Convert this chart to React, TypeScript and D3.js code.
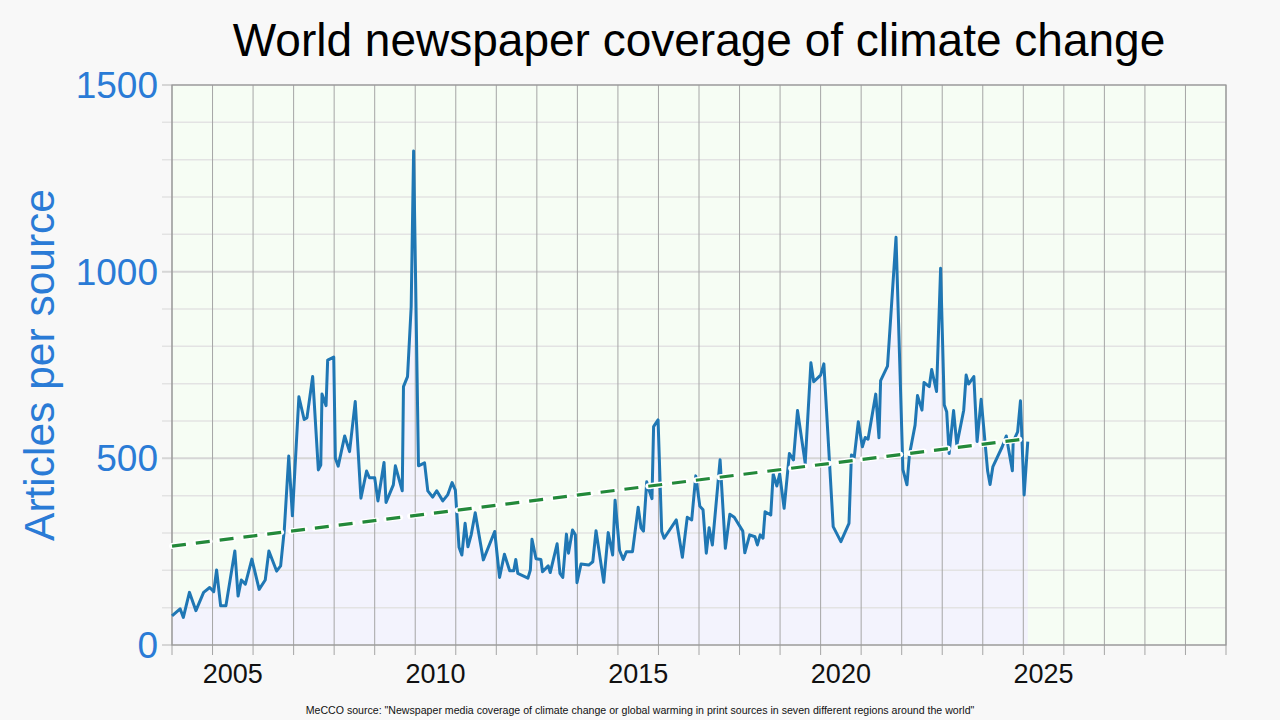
import * as d3 from "d3";
import { useEffect, useRef } from "react";

const WIDTH = 1280;
const HEIGHT = 720;

// Monthly coverage, as decimal years and articles per source
const years = [
    2004.0, 2004.2, 2004.28, 2004.43, 2004.59, 2004.78, 2004.93, 2005.03, 2005.1, 2005.2, 2005.33, 2005.55, 2005.63,
    2005.71, 2005.81, 2005.97, 2006.15, 2006.3, 2006.39, 2006.58, 2006.68, 2006.77, 2006.88, 2006.97, 2007.13, 2007.26,
    2007.33, 2007.47, 2007.61, 2007.67, 2007.7, 2007.8, 2007.84, 2007.99, 2008.03, 2008.1, 2008.26, 2008.38, 2008.52,
    2008.66, 2008.8, 2008.87, 2009.0, 2009.08, 2009.23, 2009.28, 2009.46, 2009.51, 2009.68, 2009.71, 2009.81, 2009.9,
    2009.96, 2010.08, 2010.23, 2010.31, 2010.43, 2010.53, 2010.68, 2010.8, 2010.91, 2010.99, 2011.08, 2011.15, 2011.23,
    2011.3, 2011.38, 2011.48, 2011.68, 2011.96, 2012.08, 2012.2, 2012.33, 2012.43, 2012.48, 2012.53, 2012.78, 2012.84,
    2012.88, 2012.98, 2013.1, 2013.14, 2013.28, 2013.33, 2013.5, 2013.57, 2013.64, 2013.73, 2013.78, 2013.88, 2013.95,
    2013.99, 2014.09, 2014.28, 2014.38, 2014.46, 2014.65, 2014.76, 2014.87, 2014.93, 2015.04, 2015.13, 2015.21, 2015.36,
    2015.5, 2015.57, 2015.63, 2015.71, 2015.78, 2015.84, 2015.88, 2015.99, 2016.08, 2016.14, 2016.44, 2016.59, 2016.71,
    2016.82, 2016.92, 2017.02, 2017.1, 2017.18, 2017.25, 2017.33, 2017.52, 2017.65, 2017.76, 2017.87, 2018.08, 2018.13,
    2018.25, 2018.38, 2018.44, 2018.51, 2018.58, 2018.63, 2018.77, 2018.83, 2018.92, 2018.99, 2019.1, 2019.23, 2019.33,
    2019.43, 2019.62, 2019.76, 2019.83, 2020.0, 2020.08, 2020.31, 2020.5, 2020.7, 2020.76, 2020.83, 2020.93, 2021.03,
    2021.1, 2021.17, 2021.36, 2021.44, 2021.48, 2021.65, 2021.86, 2022.03, 2022.13, 2022.19, 2022.33, 2022.39, 2022.5,
    2022.55, 2022.68, 2022.74, 2022.86, 2022.96, 2023.05, 2023.11, 2023.17, 2023.28, 2023.36, 2023.53, 2023.59, 2023.65,
    2023.78, 2023.86, 2023.96, 2024.12, 2024.18, 2024.25, 2024.48, 2024.58, 2024.73, 2024.75, 2024.86, 2024.93, 2025.02,
    2025.11,
];
const articles = [
    78, 97, 74, 141, 92, 141, 154, 143, 201, 105, 105, 252, 131, 174, 163, 230, 149, 174, 252, 198, 212, 308, 506, 346,
    665, 604, 609, 719, 469, 482, 672, 641, 763, 771, 500, 479, 560, 518, 652, 393, 466, 448, 448, 386, 489, 382, 429,
    480, 413, 692, 719, 906, 1323, 480, 488, 413, 396, 413, 386, 402, 435, 415, 262, 241, 326, 263, 295, 354, 228, 304,
    181, 243, 199, 199, 229, 192, 179, 201, 283, 231, 229, 196, 212, 194, 271, 192, 181, 297, 246, 308, 295, 167, 217,
    214, 223, 306, 168, 301, 241, 388, 254, 229, 250, 250, 369, 314, 305, 437, 411, 392, 585, 603, 304, 286, 335, 235,
    342, 335, 453, 372, 362, 246, 314, 268, 496, 259, 350, 342, 305, 247, 295, 290, 268, 295, 286, 357, 348, 458, 426,
    458, 366, 513, 496, 628, 487, 756, 705, 723, 753, 317, 277, 326, 509, 503, 598, 531, 556, 551, 672, 555, 708, 747,
    1092, 470, 429, 509, 589, 668, 629, 703, 692, 738, 679, 1009, 643, 625, 513, 628, 536, 629, 723, 699, 719, 545, 658,
    466, 430, 478, 531, 560, 467, 545, 571, 654, 402, 545,
];

// Linear trend, start and end
const trendYears = [2004.0, 2025.11];
const trendValues = [265, 553];

const yTicks = [0, 500, 1000, 1500];
const xTickYears = [2005, 2010, 2015, 2020, 2025];

const TITLE = "World newspaper coverage of climate change";
const Y_LABEL = "Articles per source";
const SOURCE =
    'MeCCO source: "Newspaper media coverage of climate change or global warming in print sources in seven different regions around the world"';

export default function App() {
    const svgRef = useRef<SVGSVGElement | null>(null);

    useEffect(() => {
        if (!svgRef.current) return;
        const svg = d3.select(svgRef.current);
        svg.selectAll("*").remove();

        const plot = { left: 172, right: 1226, top: 85, bottom: 645 };
        const x = d3.scaleLinear().domain([2004, 2030]).range([plot.left, plot.right]);
        const y = d3.scaleLinear().domain([0, 1500]).range([plot.bottom, plot.top]);
        const font = "'Liberation Sans', Arial, sans-serif";

        svg.append("rect").attr("width", WIDTH).attr("height", HEIGHT).attr("fill", "#f8f8f8");
        svg.append("rect")
            .attr("x", plot.left)
            .attr("y", plot.top)
            .attr("width", plot.right - plot.left)
            .attr("height", plot.bottom - plot.top)
            .attr("fill", "#f6fdf4");

        const points = years.map((t, i) => ({ t, v: articles[i] }));

        // light fill under the series
        const area = d3
            .area<{ t: number; v: number }>()
            .x((d) => x(d.t))
            .y0(y(0))
            .y1((d) => y(d.v));
        svg.append("path").datum(points).attr("fill", "#f3f3fd").attr("d", area);

        // horizontal grid every 100, extending left as ticks
        const minor = d3.range(0, 1501, 100);
        svg.append("g")
            .selectAll("line")
            .data(minor)
            .enter()
            .append("line")
            .attr("x1", plot.left - 10)
            .attr("x2", plot.right)
            .attr("y1", (d) => y(d))
            .attr("y2", (d) => y(d))
            .attr("stroke", (d) => (d % 500 === 0 ? "#d6d6d6" : "#e3e3e3"))
            .attr("stroke-width", (d) => (d % 500 === 0 ? 2 : 1.5));

        // vertical grid every year, with ticks below the axis
        const yearLines = d3.range(2004, 2031);
        svg.append("g")
            .selectAll("line")
            .data(yearLines)
            .enter()
            .append("line")
            .attr("x1", (d) => x(d))
            .attr("x2", (d) => x(d))
            .attr("y1", plot.top)
            .attr("y2", plot.bottom + 10)
            .attr("stroke", "#a6a6a6")
            .attr("stroke-width", 1);

        // frame
        svg.append("rect")
            .attr("x", plot.left)
            .attr("y", plot.top)
            .attr("width", plot.right - plot.left)
            .attr("height", plot.bottom - plot.top)
            .attr("fill", "none")
            .attr("stroke", "#999")
            .attr("stroke-width", 1.2);

        const line = d3
            .line<{ t: number; v: number }>()
            .x((d) => x(d.t))
            .y((d) => y(d.v));
        svg.append("path")
            .datum(points)
            .attr("fill", "none")
            .attr("stroke", "#1f77b4")
            .attr("stroke-width", 3)
            .attr("stroke-linejoin", "round")
            .attr("d", line);

        // dashed trend with a white halo
        const trend = trendYears.map((t, i) => ({ t, v: trendValues[i] }));
        svg.append("path")
            .datum(trend)
            .attr("fill", "none")
            .attr("stroke", "#fff")
            .attr("stroke-width", 6)
            .attr("stroke-dasharray", "14 10")
            .attr("stroke-linecap", "round")
            .attr("d", line);
        svg.append("path")
            .datum(trend)
            .attr("fill", "none")
            .attr("stroke", "#23893a")
            .attr("stroke-width", 3.2)
            .attr("stroke-dasharray", "14 10")
            .attr("d", line);

        // y tick labels
        svg.append("g")
            .selectAll("text")
            .data(yTicks)
            .enter()
            .append("text")
            .attr("x", 158)
            .attr("y", (d) => y(d))
            .attr("dy", "0.35em")
            .attr("text-anchor", "end")
            .attr("font-family", font)
            .attr("font-size", 37)
            .attr("fill", "#2a7bd6")
            .text((d) => d);

        // x tick labels, centred on each year
        svg.append("g")
            .selectAll("text")
            .data(xTickYears)
            .enter()
            .append("text")
            .attr("x", (d) => x(d + 0.5))
            .attr("y", 683)
            .attr("text-anchor", "middle")
            .attr("font-family", font)
            .attr("font-size", 27)
            .attr("fill", "#111")
            .text((d) => d);

        svg.append("text")
            .attr("x", (plot.left + plot.right) / 2)
            .attr("y", 56)
            .attr("text-anchor", "middle")
            .attr("font-family", font)
            .attr("font-size", 46)
            .attr("fill", "#000")
            .text(TITLE);

        svg.append("text")
            .attr("transform", `translate(54, ${(plot.top + plot.bottom) / 2}) rotate(-90)`)
            .attr("text-anchor", "middle")
            .attr("font-family", font)
            .attr("font-size", 42.5)
            .attr("fill", "#2a7bd6")
            .text(Y_LABEL);

        svg.append("text")
            .attr("x", 640)
            .attr("y", 714)
            .attr("text-anchor", "middle")
            .attr("font-family", font)
            .attr("font-size", 10.6)
            .attr("fill", "#111")
            .text(SOURCE);
    }, []);

    return <svg ref={svgRef} width={WIDTH} height={HEIGHT} style={{ position: "absolute", left: 0, top: 0 }} />;
}
